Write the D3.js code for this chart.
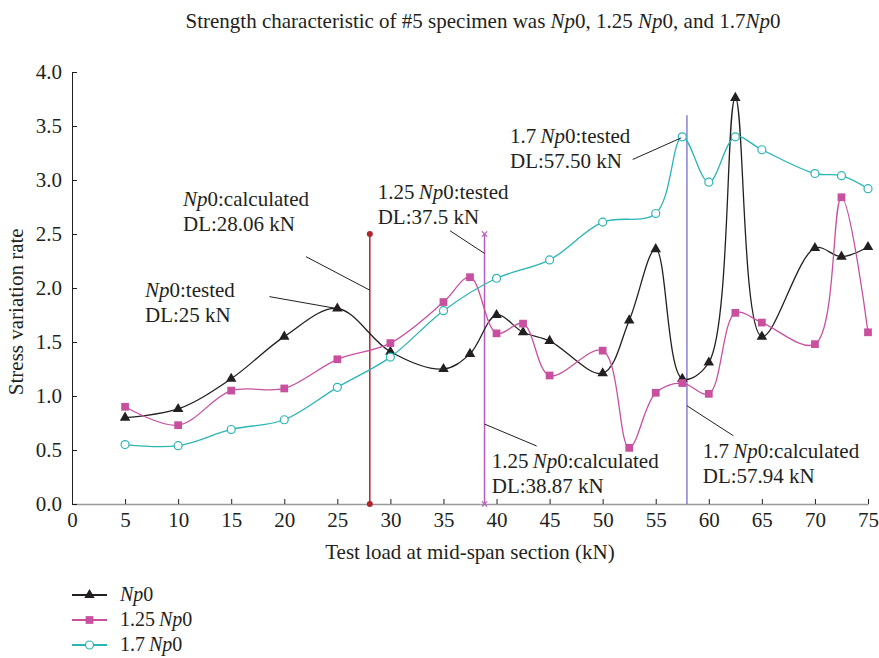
<!DOCTYPE html>
<html>
<head>
<meta charset="utf-8">
<script src="https://cdn.jsdelivr.net/npm/d3@7"></script>
<style>
  body { margin: 0; background: #fff; }
  svg text { font-family: "Liberation Serif", "DejaVu Serif", serif; fill: #231f20; }
</style>
</head>
<body>
<svg id="chart" width="879" height="658"></svg>
<script>
// test loads (kN)
var loadsA = [5, 10, 15, 20, 25, 30, 35, 37.5, 40, 42.5, 45, 50, 52.5, 55, 57.5, 60, 62.5, 65, 70, 72.5, 75];
var loadsC = [5, 10, 15, 20, 25, 30, 35, 40, 45, 50, 55, 57.5, 60, 62.5, 65, 70, 72.5, 75];

// stress variation rate
var rateNp0   = [0.80, 0.88, 1.16, 1.55, 1.81, 1.41, 1.25, 1.39, 1.75, 1.59, 1.51, 1.21, 1.70, 2.36, 1.16, 1.31, 3.76, 1.55, 2.37, 2.29, 2.38];
var rate125   = [0.90, 0.73, 1.05, 1.07, 1.34, 1.49, 1.87, 2.10, 1.58, 1.67, 1.19, 1.42, 0.52, 1.03, 1.12, 1.02, 1.77, 1.68, 1.48, 2.84, 1.59];
var rate17    = [0.55, 0.54, 0.69, 0.78, 1.08, 1.36, 1.79, 2.09, 2.26, 2.61, 2.69, 3.40, 2.98, 3.40, 3.28, 3.06, 3.04, 2.92];

var seriesNames = ["Np0", "1.25Np0", "1.7Np0"];

// design load markers: [load, top rate]
var dlNp0calc = [28.06, 2.5];
var dl125calc = [38.87, 2.5];
var dl17calc  = [57.94, 3.6];

var xTicks = d3.range(0, 76, 5);
var yTicks = d3.range(0, 4.01, 0.5);

// annotations: prefix, italic part, suffix, second line, text anchor, leader from/to (data units)
var notes = [
  { pre: "", it: "Np", post: "0:tested", line2: "DL:25 kN", at: [6.88, 1.917], from: [18.6, 1.92], to: [24.94, 1.81] },
  { pre: "", it: "Np", post: "0:calculated", line2: "DL:28.06 kN", at: [10.46, 2.76], from: [22.05, 2.29], to: [28.06, 1.98] },
  { pre: "1.25\u2009", it: "Np", post: "0:tested", line2: "DL:37.5 kN", at: [28.8, 2.82], from: [35.62, 2.53], to: [38.87, 2.32] },
  { pre: "1.7\u2009", it: "Np", post: "0:tested", line2: "DL:57.50 kN", at: [41.27, 3.345], from: [52.83, 3.19], to: [57.4, 3.39] },
  { pre: "1.25\u2009", it: "Np", post: "0:calculated", line2: "DL:38.87 kN", at: [39.55, 0.33], from: [38.87, 0.74], to: [43.78, 0.537] },
  { pre: "1.7\u2009", it: "Np", post: "0:calculated", line2: "DL:57.94 kN", at: [59.43, 0.423], from: [57.94, 0.91], to: [62.31, 0.632] }
];

var colours = ["#231f20", "#c8509f", "#2bb5b3"];

var svg = d3.select("#chart");
var margin = {top: 72, right: 11, bottom: 154, left: 72};
var width = 879 - margin.left - margin.right;
var height = 658 - margin.top - margin.bottom;

var x = d3.scaleLinear().domain([0, 75]).range([0, width]);
var y = d3.scaleLinear().domain([0, 4]).range([height, 0]);

var g = svg.append("g")
    .attr("transform", "translate(" + margin.left + "," + margin.top + ")");

// title
var title = svg.append("text")
    .attr("x", 483)
    .attr("y", 28)
    .attr("text-anchor", "middle")
    .style("font-size", "21px");
title.append("tspan").text("Strength characteristic of #5 specimen was ");
title.append("tspan").style("font-style", "italic").text("Np");
title.append("tspan").text("0, 1.25 ");
title.append("tspan").style("font-style", "italic").text("Np");
title.append("tspan").text("0, and 1.7");
title.append("tspan").style("font-style", "italic").text("Np");
title.append("tspan").text("0");

// axes
var xAxis = g.append("g")
    .attr("transform", "translate(0," + height + ")")
    .call(d3.axisBottom(x).tickValues(xTicks).tickSizeInner(-5).tickSizeOuter(0).tickPadding(8));
xAxis.select(".domain").attr("stroke", "#9a9a9a").attr("stroke-width", 1.5);
xAxis.selectAll(".tick line").attr("stroke", "#231f20");
xAxis.selectAll("text").style("font-size", "21px").style("font-family", "Liberation Serif");

var yAxis = g.append("g")
    .call(d3.axisLeft(y).tickValues(yTicks).tickFormat(d3.format(".1f")).tickSizeInner(-5).tickSizeOuter(0).tickPadding(10));
yAxis.select(".domain").attr("stroke", "#231f20");
yAxis.selectAll(".tick line").attr("stroke", "#231f20");
yAxis.selectAll("text").style("font-size", "21px").style("font-family", "Liberation Serif");

g.append("text")
    .attr("x", x(37.5))
    .attr("y", height + 55)
    .attr("text-anchor", "middle")
    .style("font-size", "21px")
    .text("Test load at mid-span section (kN)");

g.append("text")
    .attr("transform", "translate(-49," + (y(1.78)) + ") rotate(-90)")
    .attr("text-anchor", "middle")
    .style("font-size", "21px")
    .text("Stress variation rate");

// design load vertical lines
g.append("line")
    .attr("x1", x(dlNp0calc[0])).attr("x2", x(dlNp0calc[0]))
    .attr("y1", y(0)).attr("y2", y(dlNp0calc[1]))
    .attr("stroke", "#b0262b").attr("stroke-width", 1.5);
g.selectAll(".dl-dot")
    .data([0, dlNp0calc[1]])
    .enter().append("circle")
    .attr("cx", x(dlNp0calc[0])).attr("cy", function(d) { return y(d); })
    .attr("r", 3).attr("fill", "#b0262b");

g.append("line")
    .attr("x1", x(dl125calc[0])).attr("x2", x(dl125calc[0]))
    .attr("y1", y(0)).attr("y2", y(dl125calc[1]))
    .attr("stroke", "#b55bbd").attr("stroke-width", 1.5);
g.selectAll(".dl-star")
    .data([0, dl125calc[1]])
    .enter().append("path")
    .attr("transform", function(d) { return "translate(" + x(dl125calc[0]) + "," + y(d) + ")"; })
    .attr("d", d3.symbol().type(d3.symbolTimes).size(20))
    .attr("stroke", "#b55bbd").attr("stroke-width", 1.2).attr("fill", "none");

g.append("line")
    .attr("x1", x(dl17calc[0])).attr("x2", x(dl17calc[0]))
    .attr("y1", y(0)).attr("y2", y(dl17calc[1]))
    .attr("stroke", "#6a63c9").attr("stroke-width", 1.2);

// series
var seriesData = [
  d3.zip(loadsA, rateNp0),
  d3.zip(loadsA, rate125),
  d3.zip(loadsC, rate17)
];
var line = d3.line()
    .x(function(d) { return x(d[0]); })
    .y(function(d) { return y(d[1]); })
    .curve(d3.curveCatmullRom.alpha(0.5));

var symbols = [
  d3.symbol().type(d3.symbolTriangle).size(48),
  d3.symbol().type(d3.symbolSquare).size(60),
  d3.symbol().type(d3.symbolCircle).size(50)
];

for (var i = 0; i < seriesData.length; i++) {
  g.append("path")
      .datum(seriesData[i])
      .attr("fill", "none")
      .attr("stroke", colours[i])
      .attr("stroke-width", 1.3)
      .attr("d", line);

  g.selectAll(".pt" + i)
      .data(seriesData[i])
      .enter().append("path")
      .attr("transform", function(d) { return "translate(" + x(d[0]) + "," + y(d[1]) + ")"; })
      .attr("d", symbols[i])
      .attr("fill", i == 2 ? "#fff" : colours[i])
      .attr("stroke", colours[i])
      .attr("stroke-width", i == 2 ? 1.2 : 0);
}

// annotations
notes.forEach(function(n) {
  g.append("line")
      .attr("x1", x(n.from[0])).attr("y1", y(n.from[1]))
      .attr("x2", x(n.to[0])).attr("y2", y(n.to[1]))
      .attr("stroke", "#231f20").attr("stroke-width", 1);
  var t = g.append("text")
      .attr("x", x(n.at[0]))
      .attr("y", y(n.at[1]))
      .style("font-size", "21px");
  t.append("tspan").text(n.pre);
  t.append("tspan").style("font-style", "italic").text(n.it);
  t.append("tspan").text(n.post);
  t.append("tspan")
      .attr("x", x(n.at[0]))
      .attr("dy", 25)
      .text(n.line2);
});

// legend
var key = svg.append("g")
    .attr("transform", "translate(72, 595)");
for (var i = 0; i < seriesNames.length; i++) {
  key.append("line")
      .attr("x1", 0).attr("x2", 35)
      .attr("y1", i * 25).attr("y2", i * 25)
      .attr("stroke", colours[i]).attr("stroke-width", 2);
  key.append("path")
      .attr("transform", "translate(17.5," + (i * 25) + ")")
      .attr("d", symbols[i])
      .attr("fill", i == 2 ? "#fff" : colours[i])
      .attr("stroke", colours[i])
      .attr("stroke-width", i == 2 ? 1.2 : 0);
  var lt = key.append("text")
      .attr("x", 48)
      .attr("y", i * 25 + 6)
      .style("font-size", "20px");
  var m = seriesNames[i].match(/^([\d.]*)(Np)(0)$/);
  if (m[1]) lt.append("tspan").text(m[1] + "\u2009");
  lt.append("tspan").style("font-style", "italic").text(m[2]);
  lt.append("tspan").text(m[3]);
}
</script>
</body>
</html>
